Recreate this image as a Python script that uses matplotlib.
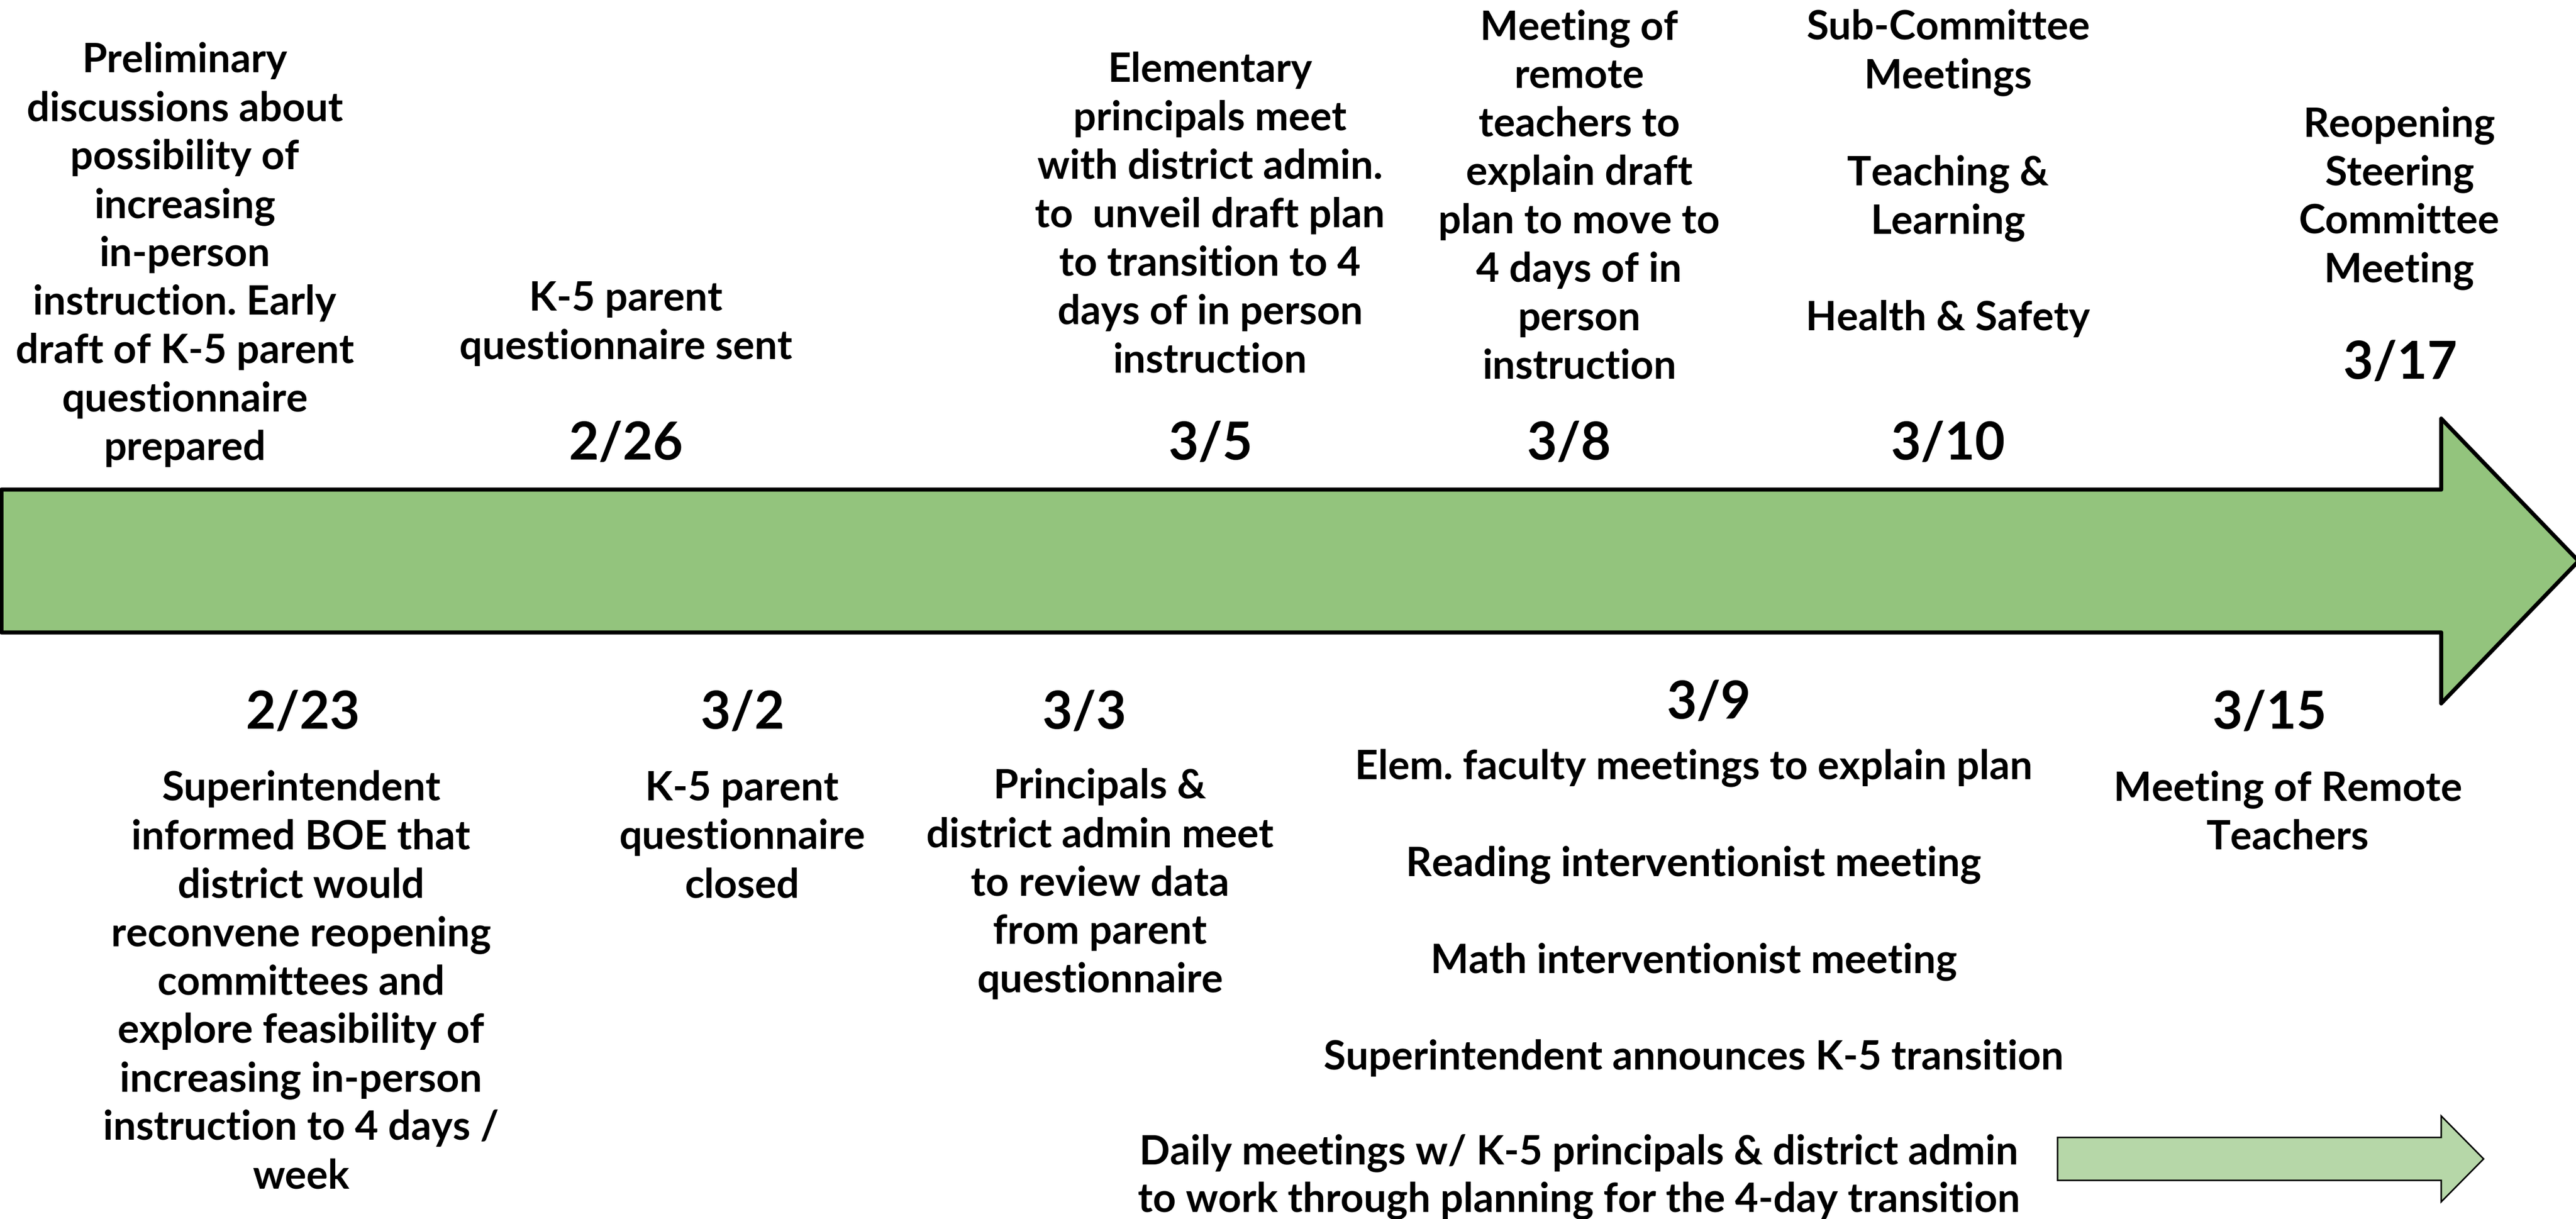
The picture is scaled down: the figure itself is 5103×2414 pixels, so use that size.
import matplotlib
matplotlib.use("Agg")
import matplotlib.pyplot as plt
from matplotlib.patches import FancyArrow

plt.rcParams['font.family'] = ['Lato', 'DejaVu Sans']

# events above the timeline
top_dates = ["2/26", "3/5", "3/8", "3/10", "3/17"]
top_notes = [
    "Preliminary\ndiscussions about\npossibility of\nincreasing\nin-person\ninstruction. Early\ndraft of K-5 parent\nquestionnaire\nprepared",
    "K-5 parent\nquestionnaire sent",
    "Elementary\nprincipals meet\nwith district admin.\nto  unveil draft plan\nto transition to 4\ndays of in person\ninstruction",
    "Meeting of\nremote\nteachers to\nexplain draft\nplan to move to\n4 days of in\nperson\ninstruction",
    "Sub-Committee\nMeetings\n\nTeaching &\nLearning\n\nHealth & Safety",
    "Reopening\nSteering\nCommittee\nMeeting",
]

# events below the timeline
bottom_dates = ["2/23", "3/2", "3/3", "3/9", "3/15"]
bottom_notes = [
    "Superintendent\ninformed BOE that\ndistrict would\nreconvene reopening\ncommittees and\nexplore feasibility of\nincreasing in-person\ninstruction to 4 days /\nweek",
    "K-5 parent\nquestionnaire\nclosed",
    "Principals &\ndistrict admin meet\nto review data\nfrom parent\nquestionnaire",
    "Elem. faculty meetings to explain plan\n\nReading interventionist meeting\n\nMath interventionist meeting\n\nSuperintendent announces K-5 transition",
    "Meeting of Remote\nTeachers",
]
ongoing_note = "Daily meetings w/ K-5 principals & district admin\nto work through planning for the 4-day transition"

# layout (pixel coordinates, y = first baseline)
W, H = 5103, 2414
top_note_pos = [(366, 143), (1240, 615), (2397, 162), (3128, 78), (3859, 78), (4753, 270)]
top_date_pos = [(1240, 910), (2398, 910), (3108, 910), (3859, 910), (4755, 750)]
bottom_date_pos = [(600, 1443), (1471, 1443), (2148, 1443), (3385, 1423), (4496, 1443)]
bottom_note_pos = [(596, 1585), (1470, 1585), (2179, 1581), (3355, 1542), (4532, 1585)]
ongoing_pos = (3128, 2305)

NOTE_SIZE = 57.5
DATE_SIZE = 74
STEP = 96

fig = plt.figure(figsize=(W / 100, H / 100), dpi=100)
ax = fig.add_axes([0, 0, 1, 1])
ax.set_xlim(0, W)
ax.set_ylim(H, 0)
ax.axis('off')

# main timeline arrow
ax.add_patch(FancyArrow(3, 1111, W + 5 - 3, 0, width=283, head_width=564,
                        head_length=272, length_includes_head=True,
                        facecolor='#93C47D', edgecolor='black', linewidth=5.8,
                        joinstyle='round'))
# small "ongoing" arrow
ax.add_patch(FancyArrow(4076, 2295, 4920 - 4076, 0, width=85, head_width=170,
                        head_length=84, length_includes_head=True,
                        facecolor='#B6D7A8', edgecolor='black', linewidth=2.2))


def put_lines(x, y0, text, size, step=STEP):
    for i, line in enumerate(text.split('\n')):
        if line:
            ax.text(x, y0 + i * step, line, ha='center', va='baseline',
                    fontsize=size, fontweight='bold', color='black')


for (x, y), t in zip(top_note_pos, top_notes):
    put_lines(x, y, t, NOTE_SIZE)
for (x, y), d in zip(top_date_pos, top_dates):
    put_lines(x, y, d, DATE_SIZE)
for (x, y), d in zip(bottom_date_pos, bottom_dates):
    put_lines(x, y, d, DATE_SIZE)
for (x, y), t in zip(bottom_note_pos, bottom_notes):
    put_lines(x, y, t, NOTE_SIZE)
put_lines(ongoing_pos[0], ongoing_pos[1], ongoing_note, NOTE_SIZE, step=94)

fig.savefig("out.png", dpi=100, facecolor='white')
